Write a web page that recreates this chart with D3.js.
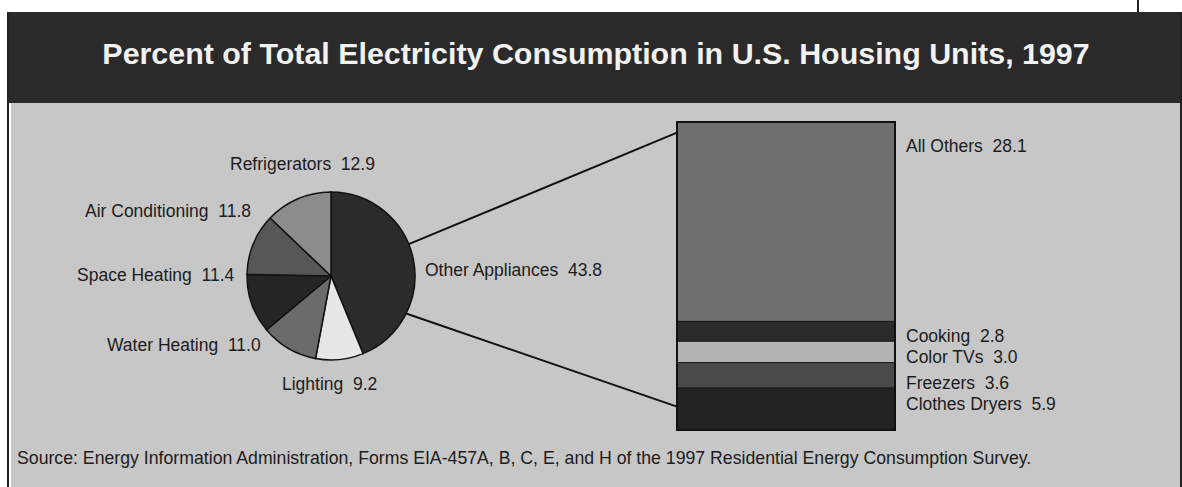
<!DOCTYPE html>
<html>
<head>
<meta charset="utf-8">
<script src="https://d3js.org/d3.v7.min.js"></script>
<style>
  body { margin: 0; background: #fff; }
  text { font-family: "Liberation Sans", Arial, sans-serif; fill: #1c1c1c; }
</style>
</head>
<body>
<svg id="chart"></svg>
<script>
var width = 1182, height = 487;

// pie: share of total electricity use
var pieLabels = ["Other Appliances", "Lighting", "Water Heating", "Space Heating", "Air Conditioning", "Refrigerators"];
var pieValues = [43.8, 9.2, 11.0, 11.4, 11.8, 12.9];
var pieColors = ["#2b2b2b", "#e6e6e6", "#6b6b6b", "#252525", "#575757", "#8c8c8c"];

// breakdown of "Other Appliances" (top to bottom)
var barLabels = ["All Others", "Cooking", "Color TVs", "Freezers", "Clothes Dryers"];
var barValues = [28.1, 2.8, 3.0, 3.6, 5.9];
var barColors = ["#707070", "#2a2a2a", "#b4b4b4", "#4a4a4a", "#232323"];

var title = "Percent of Total Electricity Consumption in U.S. Housing Units, 1997";
var source = "Source: Energy Information Administration, Forms EIA-457A, B, C, E, and H of the 1997 Residential Energy Consumption Survey.";

var svg = d3.select("#chart")
  .attr("width", width)
  .attr("height", height);

// frame
svg.append("rect").attr("x", 11).attr("y", 103).attr("width", 1169).attr("height", height - 103)
  .attr("fill", "#c7c7c7");
svg.append("rect").attr("x", 9).attr("y", 12).attr("width", 1173).attr("height", 91)
  .attr("fill", "#2a2a2a");
svg.append("line").attr("x1", 8).attr("x2", 8).attr("y1", 12).attr("y2", height)
  .attr("stroke", "#222").attr("stroke-width", 2);
svg.append("line").attr("x1", 1181).attr("x2", 1181).attr("y1", 12).attr("y2", height)
  .attr("stroke", "#222").attr("stroke-width", 2);
svg.append("line").attr("x1", 1138).attr("x2", 1138).attr("y1", 0).attr("y2", 12)
  .attr("stroke", "#222").attr("stroke-width", 2);

svg.append("text")
  .attr("x", 596).attr("y", 64)
  .attr("text-anchor", "middle")
  .style("font-size", "30.4px").style("font-weight", "bold").style("fill", "#f2f2f2")
  .text(title);

svg.append("text")
  .attr("x", 17).attr("y", 464)
  .style("font-size", "17.7px")
  .text(source);

// pie
var cx = 331, cy = 276, r = 84;
var pie = d3.pie().sort(null).value(function(d) { return d; });
var arcs = pie(pieValues);
var arc = d3.arc().innerRadius(0).outerRadius(r);

var gPie = svg.append("g").attr("transform", "translate(" + cx + "," + cy + ")");
gPie.selectAll("path")
  .data(arcs)
  .enter().append("path")
  .attr("d", arc)
  .attr("fill", function(d, i) { return pieColors[i]; })
  .attr("stroke", "#111")
  .attr("stroke-width", 1.5);

// pie labels
var pieLabelPos = [
  [425, 276],
  [282, 390],
  [107, 351],
  [77, 281],
  [85, 217],
  [230, 170]
];
svg.selectAll("text.pielab")
  .data(pieLabels)
  .enter().append("text")
  .attr("class", "pielab")
  .attr("x", function(d, i) { return pieLabelPos[i][0]; })
  .attr("y", function(d, i) { return pieLabelPos[i][1]; })
  .style("font-size", "17.5px")
  .attr("xml:space", "preserve")
  .text(function(d, i) { return d + "  " + pieValues[i].toFixed(1); });

// stacked bar for Other Appliances
var barX = 677, barW = 218;
var total = d3.sum(barValues);
var y = d3.scaleLinear().domain([0, total]).range([122, 430]);
var stack = [];
var acc = 0;
barValues.forEach(function(v, i) { stack.push({ y0: acc, y1: acc + v, i: i }); acc += v; });

svg.selectAll("rect.seg")
  .data(stack)
  .enter().append("rect")
  .attr("class", "seg")
  .attr("x", barX)
  .attr("y", function(d) { return y(d.y0); })
  .attr("width", barW)
  .attr("height", function(d) { return y(d.y1) - y(d.y0); })
  .attr("fill", function(d) { return barColors[d.i]; })
  .attr("stroke", "#1a1a1a")
  .attr("stroke-width", 1);

svg.append("rect")
  .attr("x", barX).attr("y", y(0)).attr("width", barW).attr("height", y(total) - y(0))
  .attr("fill", "none").attr("stroke", "#111").attr("stroke-width", 2);

var barLabelY = [152, 342, 363, 389, 410];
svg.selectAll("text.barlab")
  .data(barLabels)
  .enter().append("text")
  .attr("class", "barlab")
  .attr("x", 906)
  .attr("y", function(d, i) { return barLabelY[i]; })
  .style("font-size", "17.5px")
  .attr("xml:space", "preserve")
  .text(function(d, i) { return d + "  " + barValues[i].toFixed(1); });

// connector lines from the "Other Appliances" slice to the bar
var a0 = arcs[0].startAngle, a1 = arcs[0].endAngle;
var upA = a0 + (a1 - a0) * 0.43, loA = a0 + (a1 - a0) * 0.74;
svg.append("line")
  .attr("x1", cx + r * Math.sin(upA)).attr("y1", cy - r * Math.cos(upA))
  .attr("x2", barX).attr("y2", y(1.5))
  .attr("stroke", "#111").attr("stroke-width", 2);
svg.append("line")
  .attr("x1", cx + r * Math.sin(loA)).attr("y1", cy - r * Math.cos(loA))
  .attr("x2", barX).attr("y2", y(total - 3.3))
  .attr("stroke", "#111").attr("stroke-width", 2);
</script>
</body>
</html>
